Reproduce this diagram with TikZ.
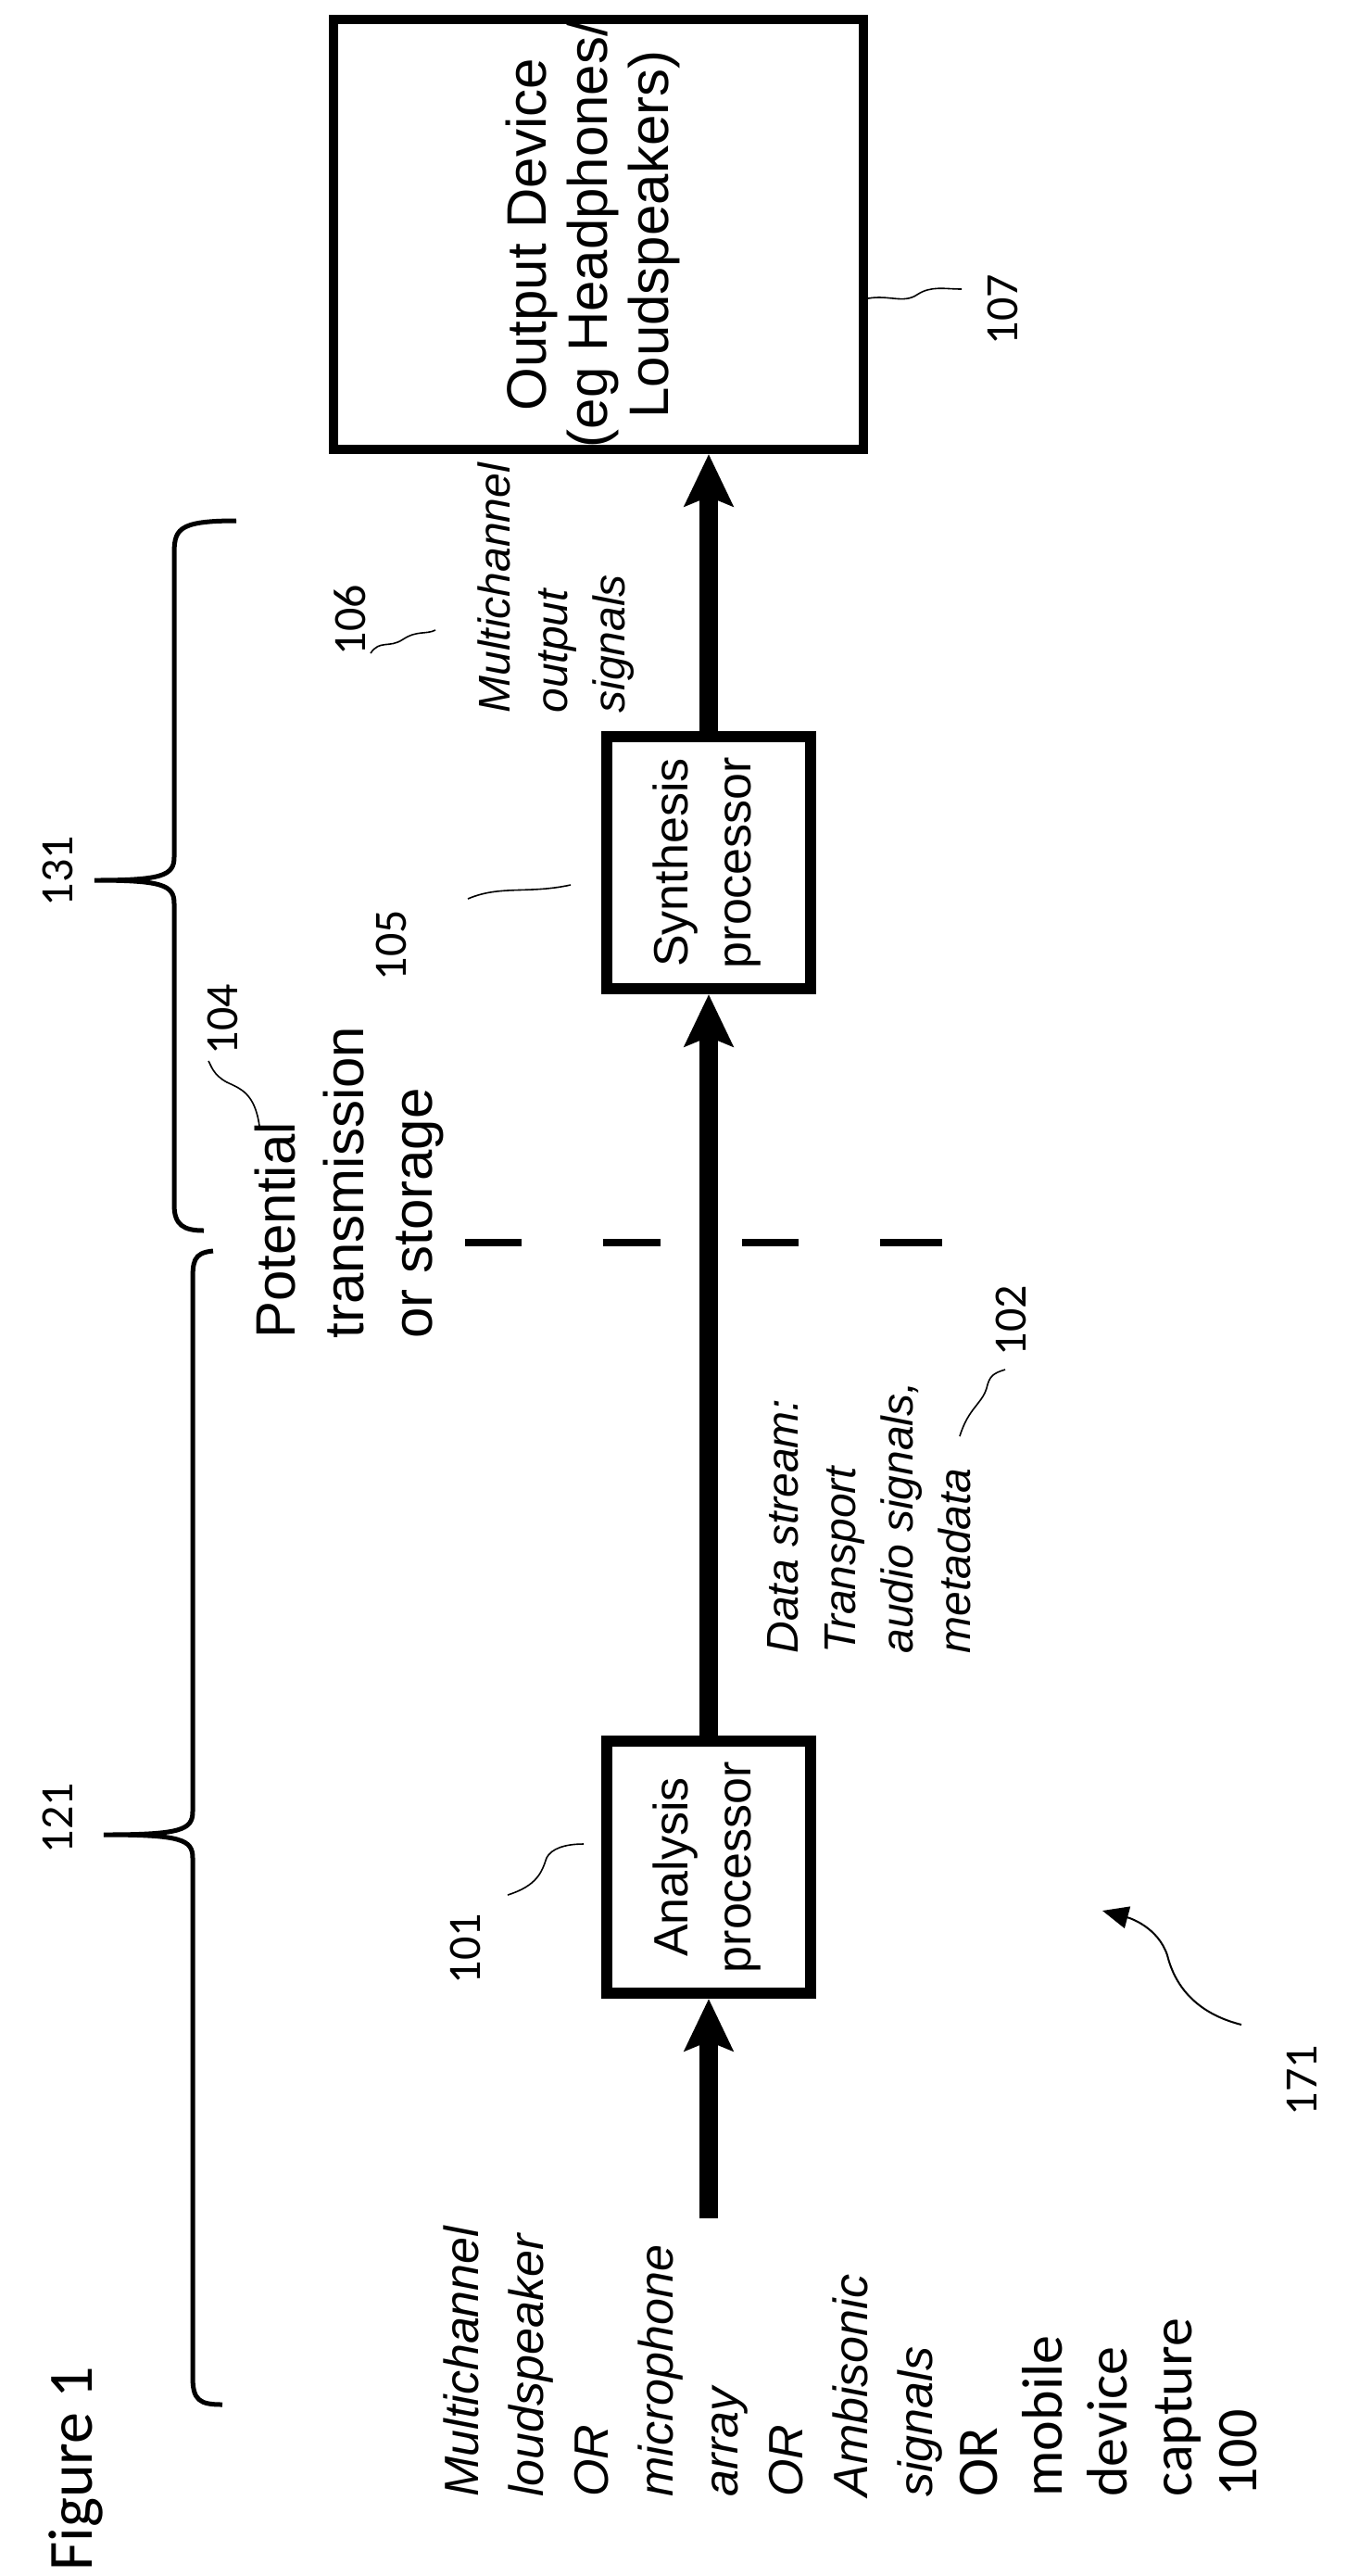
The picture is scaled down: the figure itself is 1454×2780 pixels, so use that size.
\documentclass[tikz,border=0pt]{standalone}
\usepackage{fontspec}
\setmainfont{Liberation Sans}
\newfontfamily\carl{Carlito}
\usetikzlibrary{arrows.meta}
\begin{document}
\begin{tikzpicture}[x=0.5pt,y=-0.5pt,
  rt/.style={rotate=90,inner sep=0pt,align=left,anchor=north west},
  box/.style={draw,line width=6pt,inner sep=0pt},
  big/.style={line width=10pt,-{Stealth[length=28pt,width=26pt,inset=5pt]}},
  lead/.style={line width=0.8pt},
  num/.style={rotate=90,inner sep=0pt,font=\carl\fontsize{25}{30}\selectfont},
  brace/.style={line width=2.5pt}]
\useasboundingbox (0,0) rectangle (1454,2780);
% boxes
\node[draw,line width=5pt,minimum width=286pt,minimum height=232pt] (out) at (646,253) {};
\node[rotate=90,align=center,font=\fontsize{30}{33}\selectfont] (outt) at (640,253) {Output Device\\(eg Headphones/\\Loudspeakers)};
\node[box,minimum width=110pt,minimum height=136pt] (syn) at (765,931) {};
\node[rotate=90,align=center,font=\fontsize{26}{34}\selectfont] (synt) at (763,931) {Synthesis\\processor};
\node[box,minimum width=110pt,minimum height=136pt] (ana) at (765,2015) {};
\node[rotate=90,align=center,font=\fontsize{26}{34}\selectfont] (anat) at (763,2015) {Analysis\\processor};
\coordinate (in) at (765,2394);
% arrows
\draw[big] (in) -- (ana.south);
\draw[big] (ana.north) -- (syn.south);
\draw[big] (syn.north) -- (syn.north |- out.south);
% dashes
\foreach \a/\b in {502/563,651/713,801/862,950/1017}
  \draw[line width=4pt] (\a,1341) -- (\b,1341);
% braces
\draw[brace] (230,1350) .. controls (208,1352) and (208,1362) .. (208,1385) -- (208,1955)
  .. controls (208,1975) and (195,1980) .. (112,1980) .. controls (195,1980) and (208,1985) .. (208,2005)
  -- (208,2565) .. controls (208,2590) and (215,2595) .. (240,2595);
\draw[brace] (255,562) .. controls (190,562) and (188,572) .. (188,600) -- (188,925)
  .. controls (188,945) and (175,950) .. (102,950) .. controls (175,950) and (188,955) .. (188,975)
  -- (188,1300) .. controls (188,1322) and (198,1328) .. (220,1328);
\node[num] (n121) at (62,1962) {121};
\node[num] (n131) at (62,940) {131};
% texts
\node[rt,font=\fontsize{30}{37}\selectfont] (pot) at (275,1445) {Potential\\transmission\\or storage};
\node[rt,font=\itshape\fontsize{24}{31}\selectfont] (mos) at (515,770) {Multichannel\\output\\signals};
\node[rt,font=\itshape\fontsize{24}{31}\selectfont] (ds) at (828,1785) {Data stream:\\Transport\\audio signals,\\metadata};
\node[rt,font=\itshape\fontsize{26}{35}\selectfont] (inp) at (478,2695) {Multichannel\\loudspeaker\\OR\\microphone\\array\\OR\\Ambisonic\\signals\\{\carl\upshape\fontsize{31}{35}\selectfont OR}\\{\carl\upshape\fontsize{31}{35}\selectfont mobile}\\{\carl\upshape\fontsize{31}{35}\selectfont device}\\{\carl\upshape\fontsize{31}{35}\selectfont capture}\\{\carl\upshape\fontsize{31}{35}\selectfont 100}};
\node[rt,font=\carl\fontsize{34}{40}\selectfont] (fig) at (52,2775) {Figure 1};
% reference numbers
\node[num] (n107) at (1082,334) {107};
\draw[lead] (out.east |- 0,322) .. controls (960,318) and (975,328) .. (990,318) .. controls (1005,308) and (1020,312) .. (1038,312);
\node[num] (n106) at (378,669) {106};
\draw[lead] (400,705) .. controls (410,690) and (420,700) .. (435,690) .. controls (450,680) and (460,685) .. (470,680);
\node[num] (n105) at (422,1020) {105};
\draw[lead] (505,970) .. controls (540,955) and (570,965) .. (616,955);
\node[num] (n104) at (240,1100) {104};
\draw[lead] (280,1215) .. controls (275,1180) and (260,1175) .. (245,1168) .. controls (230,1160) and (228,1150) .. (225,1145);
\node[num] (n102) at (1091,1425) {102};
\draw[lead] (1036,1550) .. controls (1045,1520) and (1060,1515) .. (1065,1498) .. controls (1068,1485) and (1072,1482) .. (1085,1478);
\node[num] (n101) at (502,2103) {101};
\draw[lead] (548,2045) .. controls (580,2035) and (585,2020) .. (590,2005) .. controls (595,1995) and (610,1990) .. (630,1990);
\node[num] (n171) at (1405,2245) {171};
\draw[line width=1pt,-{Triangle[length=14pt,width=12pt]}] (1340,2185) .. controls (1280,2170) and (1265,2130) .. (1260,2110) .. controls (1250,2080) and (1220,2070) .. (1190,2062);
\end{tikzpicture}
\end{document}
